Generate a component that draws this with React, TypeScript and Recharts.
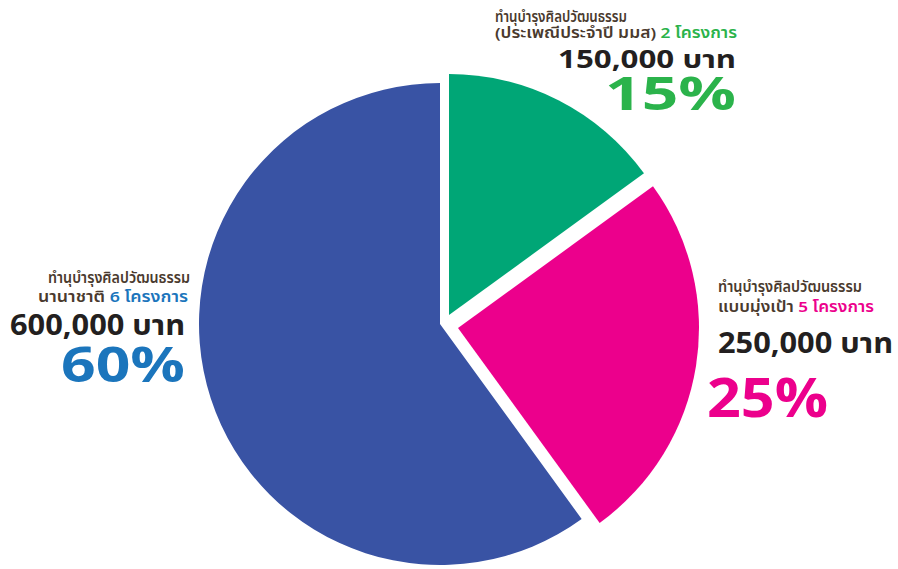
import { PieChart, Pie, Cell } from 'recharts';

// slice order: clockwise from 12 o'clock
const sliceKeys = ['heritage', 'targeted', 'international'];
const shares = [15, 25, 60];
const amounts = ['150,000', '250,000', '600,000'];
const projectCounts = [2, 5, 6];
const subtitles = ['(ประเพณีประจำปี มมส)', 'แบบมุ่งเป้า', 'นานาชาติ'];
const mainTitle = 'ทำนุบำรุงศิลปวัฒนธรรม';
const projectWord = 'โครงการ';
const currency = 'บาท';

const sliceColors = ['#00a676', '#ec008c', '#3953a4'];
const accentColors = ['#2bb34b', '#ec008c', '#1b75bc'];

const data = sliceKeys.map((key, i) => ({ key, value: shares[i] }));

// each slice is pulled out a little from the common centre
const sliceCenters = [
  { cx: 449, cy: 315 },
  { cx: 458, cy: 328 },
  { cx: 440, cy: 324 },
];

// label block layout (baselines / extents in px)
const labelLayout = [
  { x1: 495, w1: 132, y1: 22, x2: 495, w2: 242, y2: 38, right: 736, w3: 178, y3: 68, w4: 131, y4: 110, f3: 25, f4: 46 },
  { x1: 718, w1: 144, y1: 292, x2: 718, w2: 156, y2: 312, right: 893, w3: 175, y3: 353, w4: 121, y4: 417, f3: 29, f4: 54 },
  { x1: 48, w1: 142, y1: 283, x2: 38, w2: 150, y2: 302, right: 185, w3: 175, y3: 335, w4: 124, y4: 382, f3: 28, f4: 49 },
];

const textColor = '#231f20';
const smallColor = '#4a3a2e';
const fontFamily = '"Noto Sans Thai", "Noto Sans", "Liberation Sans", sans-serif';

const Labels = () => (
  <svg width={898} height={569} style={{ position: 'absolute', left: 0, top: 0 }} fontFamily={fontFamily}>
    {sliceKeys.map((key, i) => {
      const l = labelLayout[i];
      const pctLeft = i === 1;
      return (
        <g key={key}>
          <text x={l.x1} y={l.y1} fontSize={15} fontWeight={600} fill={smallColor} textLength={l.w1} lengthAdjust="spacingAndGlyphs">
            {mainTitle}
          </text>
          <text x={l.x2} y={l.y2} fontSize={15} fontWeight={600} fill={smallColor} textLength={l.w2} lengthAdjust="spacingAndGlyphs">
            {subtitles[i]}{' '}
            <tspan fill={accentColors[i]}>{projectCounts[i]} {projectWord}</tspan>
          </text>
          <text x={l.right - l.w3} y={l.y3} fontSize={l.f3} fontWeight={700} fill={textColor} textLength={l.w3} lengthAdjust="spacingAndGlyphs">
            {amounts[i]}  {currency}
          </text>
          <text
            x={pctLeft ? 707 : l.right - l.w4}
            y={l.y4}
            fontSize={l.f4}
            fontWeight={700}
            fill={accentColors[i]}
            textLength={l.w4}
            lengthAdjust="spacingAndGlyphs"
          >
            {shares[i]}%
          </text>
        </g>
      );
    })}
  </svg>
);

export default function App() {
  return (
    <div style={{ position: 'absolute', left: 0, top: 0, width: 898, height: 569, background: '#fff' }}>
      <PieChart width={898} height={569} margin={{ top: 0, right: 0, bottom: 0, left: 0 }}>
        {sliceCenters.map((c, idx) => (
          <Pie
            key={sliceKeys[idx]}
            data={data}
            dataKey="value"
            cx={c.cx}
            cy={c.cy}
            outerRadius={241}
            startAngle={90}
            endAngle={-270}
            stroke="none"
            isAnimationActive={false}
          >
            {data.map((entry, i) => (
              <Cell key={`cell-${entry.key}`} fill={i === idx ? sliceColors[i] : 'transparent'} />
            ))}
          </Pie>
        ))}
      </PieChart>
      <Labels />
    </div>
  );
}
